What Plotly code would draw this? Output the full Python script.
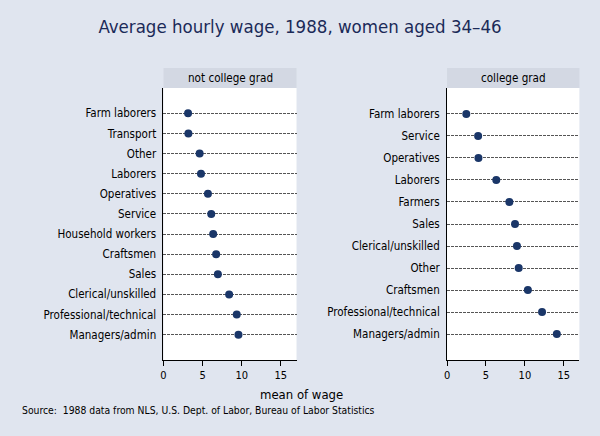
import plotly.graph_objects as go

# Data
cats_ncg = ["Farm laborers", "Transport", "Other", "Laborers", "Operatives", "Service",
            "Household workers", "Craftsmen", "Sales", "Clerical/unskilled",
            "Professional/technical", "Managers/admin"]
wage_ncg = [3.14, 3.18, 4.62, 4.79, 5.68, 6.10, 6.35, 6.73, 6.95, 8.39, 9.36, 9.58]

cats_cg = ["Farm laborers", "Service", "Operatives", "Laborers", "Farmers", "Sales",
           "Clerical/unskilled", "Other", "Craftsmen", "Professional/technical", "Managers/admin"]
wage_cg = [2.47, 3.99, 4.03, 6.32, 8.00, 8.73, 8.98, 9.20, 10.38, 12.20, 14.10]

panel_titles = ["not college grad", "college grad"]
x_ticks = [0, 5, 10, 15]

W, H = 600, 436
FONT = "DejaVu Sans Condensed, Liberation Sans Narrow, Arial Narrow, sans-serif"
BG = "#e0e5ef"
STRIP = "#d3d8e3"
NAVY = "#1a3668"

def px(x):
    return x / W

def py(y):
    return 1 - y / H

x_dom = [[px(161.3), px(295)], [px(446.3), px(579.3)]]
y_dom = [py(360), py(88)]

fig = go.Figure()

panels = [(cats_ncg, wage_ncg, 1.26), (cats_cg, wage_cg, 1.18)]
for i, (cats, vals, pad) in enumerate(panels):
    xa = "x" if i == 0 else "x2"
    ya = "y" if i == 0 else "y2"
    fig.add_trace(go.Scatter(
        x=vals, y=cats, mode="markers", xaxis=xa, yaxis=ya,
        marker=dict(color=NAVY, size=8, line=dict(width=0)),
        showlegend=False, hoverinfo="x+y"))
    n = len(cats)
    sfx = "" if i == 0 else "2"
    fig.layout["xaxis" + sfx] = dict(
        domain=x_dom[i], range=[0, 17], anchor=ya, tickvals=x_ticks,
        showgrid=False, zeroline=False, showline=True, linecolor="#000000", linewidth=1,
        ticks="outside", ticklen=5, tickcolor="#000000",
        tickfont=dict(family=FONT, size=11, color="#000000"))
    fig.layout["yaxis" + sfx] = dict(
        domain=y_dom, anchor=xa, type="category", categoryorder="array", categoryarray=cats,
        range=[n - 1 + pad, -pad],
        showgrid=True, gridcolor="#555555", gridwidth=1, griddash="3px,1px",
        zeroline=False, showline=True, linecolor="#000000", linewidth=1,
        ticks="", ticklabelstandoff=4,
        tickfont=dict(family=FONT, size=11.5, color="#000000"))
    # strip header
    fig.add_shape(type="rect", xref="paper", yref="paper",
                  x0=x_dom[i][0], x1=x_dom[i][1], y0=py(88), y1=py(68),
                  fillcolor=STRIP, line=dict(width=0), layer="below")
    fig.add_annotation(text=panel_titles[i], xref="paper", yref="paper",
                       x=(x_dom[i][0] + x_dom[i][1]) / 2, y=py(78),
                       xanchor="center", yanchor="middle", showarrow=False,
                       font=dict(family=FONT, size=11.6, color="#000000"))

fig.add_annotation(text="mean of wage", xref="paper", yref="paper", x=px(300), y=py(394),
                   xanchor="center", yanchor="middle", showarrow=False,
                   font=dict(family=FONT, size=13, color="#000000"))
fig.add_annotation(text="Source:  1988 data from NLS, U.S. Dept. of Labor, Bureau of Labor Statistics",
                   xref="paper", yref="paper", x=px(17.5), y=py(410),
                   xanchor="left", yanchor="middle", showarrow=False,
                   font=dict(family=FONT, size=10.3, color="#000000"))

fig.update_layout(
    width=W, height=H, margin=dict(l=0, r=0, t=0, b=0),
    paper_bgcolor=BG, plot_bgcolor="#ffffff",
    title=dict(text="Average hourly wage, 1988, women aged 34\u201346",
               x=0.5, xanchor="center", y=py(27), yanchor="middle",
               font=dict(family=FONT, size=18.5, color="#1b2a58")),
)

fig.write_html("out.html", config={"displayModeBar": False},
               post_script="document.body.style.margin='0';")
